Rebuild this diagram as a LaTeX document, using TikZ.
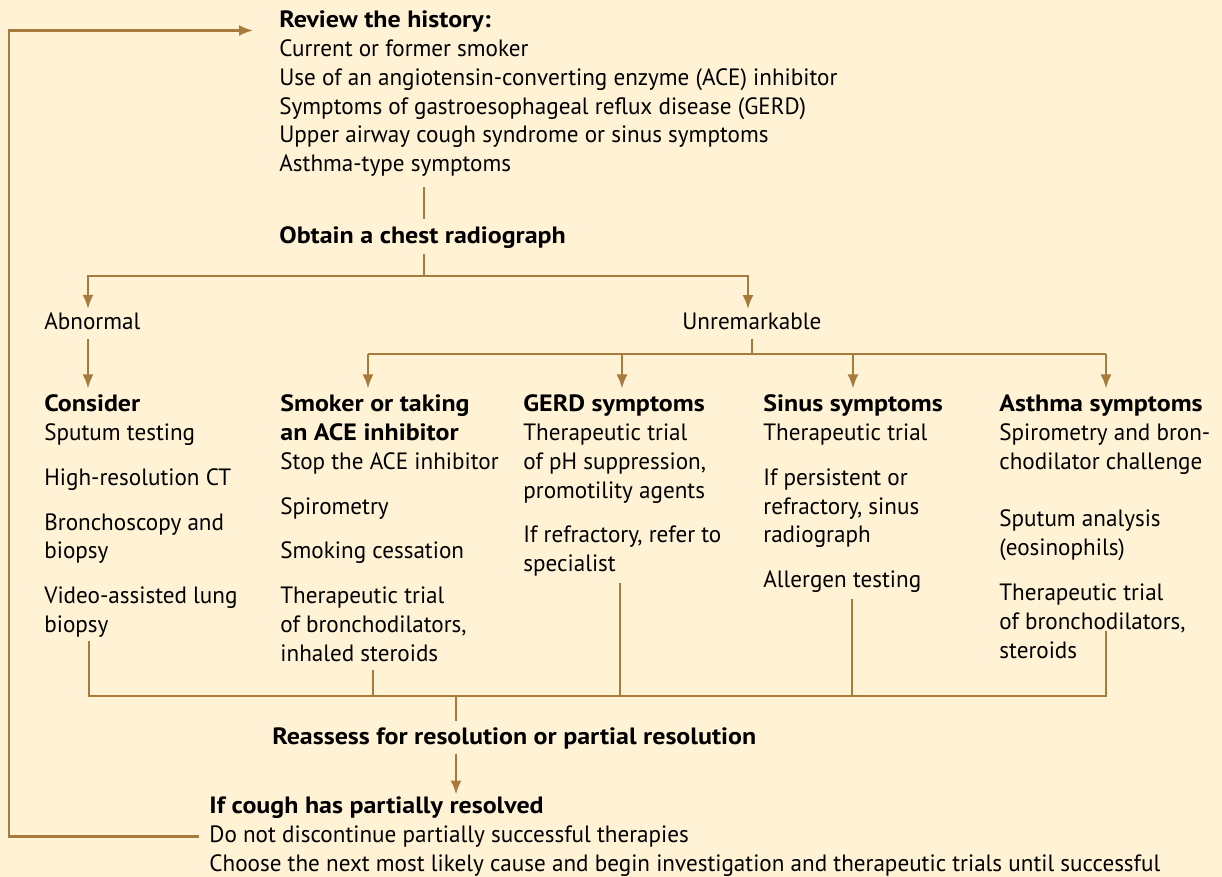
\documentclass[tikz,border=0pt]{standalone}
\usepackage{fontspec}
\setmainfont{PT Sans}[UprightFeatures={FakeStretch=0.98},BoldFeatures={FakeStretch=1.1}]
\usepackage{xcolor}
\usepackage{tikz}
\usetikzlibrary{positioning}
\usetikzlibrary{calc}
\usetikzlibrary{arrows.meta}
\definecolor{cream}{RGB}{255,242,213}
\definecolor{brn}{RGB}{166,123,60}

\begin{document}
\begin{tikzpicture}[x=0.5pt,y=-0.5pt,
  every node/.style={inner sep=0pt,align=left,font=\fontsize{11.8}{14.4}\selectfont},
  txt/.style={anchor=north west},
  lbl/.style={anchor=base west},
  ln/.style={draw=brn,line width=1.1pt},
  arr/.style={ln,-{Latex[length=7pt,width=5.5pt]}}]
\fill[cream] (0,0) rectangle (1222,877);
\useasboundingbox (0,0) rectangle (1222,877);

\node[txt] (review) at (279,10.5) {\textbf{Review the history:}\\
  Current or former smoker\\
  Use of an angiotensin-converting enzyme (ACE) inhibitor\\
  Symptoms of gastroesophageal reflux disease (GERD)\\
  Upper airway cough syndrome or sinus symptoms\\
  Asthma-type symptoms};
\node[lbl] (chest) at (279,244) {\textbf{Obtain a chest radiograph}};
\node[lbl] (abn) at (44,330) {Abnormal};
\node[lbl] (unr) at (682,330) {Unremarkable};

\node[txt] (cons) at (44,394.5) {\textbf{Consider}\\
  Sputum testing\\[8pt]
  High-resolution CT\\[8pt]
  Bronchoscopy and\\ biopsy\\[8pt]
  Video-assisted lung\\ biopsy};
\node[txt] (smk) at (280,394.5) {\textbf{Smoker or taking}\\
  \textbf{an ACE inhibitor}\\
  Stop the ACE inhibitor\\[8pt]
  Spirometry\\[8pt]
  Smoking cessation\\[8pt]
  Therapeutic trial\\ of bronchodilators,\\ inhaled steroids};
\node[txt] (gerd) at (523,394.5) {\textbf{GERD symptoms}\\
  Therapeutic trial\\ of pH suppression,\\ promotility agents\\[8pt]
  If refractory, refer to\\ specialist};
\node[txt] (sin) at (763,394.5) {\textbf{Sinus symptoms}\\
  Therapeutic trial\\[8pt]
  If persistent or\\ refractory, sinus\\ radiograph\\[8pt]
  Allergen testing};
\node[txt] (ast) at (999,394.5) {\textbf{Asthma symptoms}\\
  Spirometry and bron-\\ chodilator challenge\\[14.5pt]
  Sputum analysis\\ (eosinophils)\\[8pt]
  Therapeutic trial\\ of bronchodilators,\\ steroids};

\node[lbl] (rea) at (272,744) {\textbf{Reassess for resolution or partial resolution}};
\node[txt] (cough) at (209,796.5) {\textbf{If cough has partially resolved}\\
  Do not discontinue partially successful therapies\\
  Choose the next most likely cause and begin investigation and therapeutic trials until successful};

\coordinate (xc) at (424,0);
\coordinate (sp) at (424,276);
\coordinate (xa) at (88,0);
\coordinate (xu) at (748,0);
\coordinate (b1) at (368,354);
\coordinate (b2) at (622,354);
\coordinate (b3) at (853,354);
\coordinate (b4) at (1106,354);
\coordinate (m0) at (89,696);
\coordinate (m1) at (373,696);
\coordinate (mr) at (456,696);
\coordinate (m2) at (620,696);
\coordinate (m3) at (852,696);
\coordinate (m4) at (1106,696);
\coordinate (lp) at (9,0);

\draw[ln] ([yshift=-5pt]review.south -| xc) -- ([yshift=4pt]chest.north -| xc);
\draw[ln] ([yshift=-2.5pt]chest.south -| xc) -- (sp);
\draw[arr] (sp) -| ([yshift=2pt]abn.north -| xa);
\draw[arr] (sp) -| ([yshift=2pt]unr.north -| xu);
\draw[arr] ([yshift=-4pt]abn.south -| xa) -- ([yshift=3pt]cons.north -| xa);
\draw[ln] ([yshift=-4pt]unr.south) -- (unr.south |- b1);
\draw[ln] (b1) -- (b4);
\draw[arr] (b1) -- ([yshift=3pt]smk.north -| b1);
\draw[arr] (b2) -- ([yshift=3pt]gerd.north -| b2);
\draw[arr] (b3) -- ([yshift=3pt]sin.north -| b3);
\draw[arr] (b4) -- ([yshift=3pt]ast.north -| b4);

\draw[ln] ([yshift=-1.5pt]cons.south -| m0) -- (m0) -- (m4) -- ([yshift=14pt]ast.south -| m4);
\draw[ln] ([yshift=-4pt]smk.south -| m1) -- (m1);
\draw[ln] ([yshift=-3pt]gerd.south -| m2) -- (m2);
\draw[ln] ([yshift=-3pt]sin.south -| m3) -- (m3);
\draw[ln] (mr) -- ([yshift=3pt]rea.north -| mr);
\draw[arr] ([yshift=-2.5pt]rea.south -| mr) -- ([yshift=1pt]cough.north -| mr);
\draw[arr] ([xshift=-5pt]cough.west) -- (cough.west -| lp) |- ([xshift=-13pt,yshift=-10pt]review.north west);
\end{tikzpicture}
\end{document}
